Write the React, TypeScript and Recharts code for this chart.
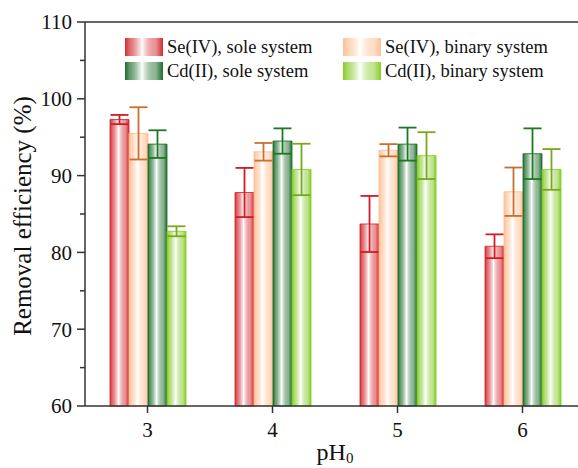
import { Bar, BarChart, ErrorBar, ReferenceLine, XAxis, YAxis } from "recharts";

const categories = ["3", "4", "5", "6"];
const seSole = [97.3, 87.8, 83.7, 80.8];
const seSoleErr = [0.6, 3.2, 3.65, 1.55];
const seBinary = [95.5, 93.1, 93.3, 87.9];
const seBinaryErr = [3.4, 1.15, 0.8, 3.15];
const cdSole = [94.1, 94.5, 94.1, 92.85];
const cdSoleErr = [1.8, 1.65, 2.15, 3.3];
const cdBinary = [82.75, 90.8, 92.6, 90.8];
const cdBinaryErr = [0.65, 3.35, 3.05, 2.65];
const yTicks = [60, 65, 70, 75, 80, 85, 90, 95, 100, 105, 110];

const data = categories.map((ph, i) => ({
  ph,
  seSole: seSole[i],
  seSoleErr: seSoleErr[i],
  seBinary: seBinary[i],
  seBinaryErr: seBinaryErr[i],
  cdSole: cdSole[i],
  cdSoleErr: cdSoleErr[i],
  cdBinary: cdBinary[i],
  cdBinaryErr: cdBinaryErr[i],
}));

const FONT = "Liberation Serif";
const AXIS = "#333333";
const Y_TICK_SIZE = 8;
const Y_TICK_MARGIN = 5;

const SERIES = [
  { key: "seSole", name: "Se(IV), sole system", color: "#d42a30", err: "#d01c24", id: "gSeSole" },
  { key: "seBinary", name: "Se(IV), binary system", color: "#ffbf94", err: "#c8702c", id: "gSeBinary" },
  { key: "cdSole", name: "Cd(II), sole system", color: "#1d6e2c", err: "#1a7a20", id: "gCdSole" },
  { key: "cdBinary", name: "Cd(II), binary system", color: "#86cc2a", err: "#78a81e", id: "gCdBinary" },
];

function GradStops({ color }: { color: string }) {
  return (
    <>
      <stop offset="0" stopColor={color} stopOpacity={1} />
      <stop offset="0.12" stopColor={color} stopOpacity={0.7} />
      <stop offset="0.45" stopColor="#ffffff" stopOpacity={1} />
      <stop offset="0.8" stopColor={color} stopOpacity={0.5} />
      <stop offset="1" stopColor={color} stopOpacity={1} />
    </>
  );
}

function YTick(props: any) {
  const { x, y, payload } = props;
  const major = payload.value % 10 === 0;
  const axisX = x + Y_TICK_SIZE + Y_TICK_MARGIN;
  return (
    <g>
      <line x1={axisX} x2={axisX - (major ? 8 : 5)} y1={y} y2={y} stroke={AXIS} strokeWidth={1.5} />
      {major && (
        <text x={x} y={y} dy="0.35em" textAnchor="end" fill="#111" fontSize={21} fontFamily={FONT}>
          {payload.value}
        </text>
      )}
    </g>
  );
}

function XLabel(props: any) {
  const { x, y, width } = props.viewBox;
  return (
    <text x={x + width / 2} y={y + 54} textAnchor="middle" fill="#111" fontSize={24} fontFamily={FONT}>
      pH
      <tspan fontSize={15} dy={3}>0</tspan>
    </text>
  );
}

function YLabel(props: any) {
  const { y, height } = props.viewBox;
  const cx = 22;
  const cy = y + height / 2 + 2;
  return (
    <text
      x={cx}
      y={cy}
      transform={`rotate(-90, ${cx}, ${cy})`}
      textAnchor="middle"
      dominantBaseline="central"
      fill="#111"
      fontSize={25}
      fontFamily={FONT}
    >
      Removal efficiency (%)
    </text>
  );
}

function LegendBox() {
  return (
    <div
      style={{
        position: "absolute",
        left: 125,
        top: 38,
        display: "grid",
        gridTemplateColumns: "218px 200px",
        rowGap: 6,
        fontFamily: FONT,
        fontSize: 18.5,
        color: "#111",
      }}
    >
      {SERIES.map((s) => (
        <div key={s.key} style={{ display: "flex", alignItems: "center", height: 18 }}>
          <svg width={38} height={18} style={{ marginRight: 4, flexShrink: 0 }}>
            <defs>
              <linearGradient id={`lg-${s.id}`} x1="0" y1="0" x2="1" y2="0">
                <GradStops color={s.color} />
              </linearGradient>
            </defs>
            <rect x={0} y={0} width={38} height={18} fill={`url(#lg-${s.id})`} />
          </svg>
          <span style={{ whiteSpace: "nowrap" }}>{s.name}</span>
        </div>
      ))}
    </div>
  );
}

export default function App() {
  return (
    <div
      style={{
        position: "absolute",
        left: 0,
        top: 0,
        width: 578,
        height: 468,
        overflow: "hidden",
        background: "#fff",
        fontFamily: FONT,
      }}
    >
      <BarChart
        width={600}
        height={468}
        data={data}
        margin={{ top: 22, right: 15, bottom: 0, left: 0 }}
        barCategoryGap="20%"
        barGap={0}
      >
        <defs>
          {SERIES.map((s) => (
            <linearGradient key={s.id} id={s.id} x1="0" y1="0" x2="1" y2="0">
              <GradStops color={s.color} />
            </linearGradient>
          ))}
        </defs>
        <XAxis
          dataKey="ph"
          height={62}
          axisLine={{ stroke: AXIS, strokeWidth: 1.5 }}
          tickLine={{ stroke: AXIS, strokeWidth: 1.5 }}
          tickSize={7}
          tickMargin={9}
          tick={{ fill: "#111", fontSize: 21, fontFamily: FONT }}
          label={<XLabel />}
        />
        <YAxis
          width={85}
          domain={[60, 110]}
          ticks={yTicks}
          interval={0}
          axisLine={{ stroke: AXIS, strokeWidth: 1.5 }}
          tickLine={false}
          tickSize={Y_TICK_SIZE}
          tickMargin={Y_TICK_MARGIN}
          tick={<YTick />}
          label={<YLabel />}
        />
        <ReferenceLine y={110} stroke={AXIS} strokeWidth={1.5} />
        {SERIES.map((s) => (
          <Bar
            key={s.key}
            dataKey={s.key}
            name={s.name}
            fill={`url(#${s.id})`}
            stroke={s.color}
            strokeOpacity={0.85}
            strokeWidth={1}
            isAnimationActive={false}
          >
            <ErrorBar dataKey={`${s.key}Err`} width={9} stroke={s.err} strokeWidth={1.8} />
          </Bar>
        ))}
      </BarChart>
      <LegendBox />
    </div>
  );
}
